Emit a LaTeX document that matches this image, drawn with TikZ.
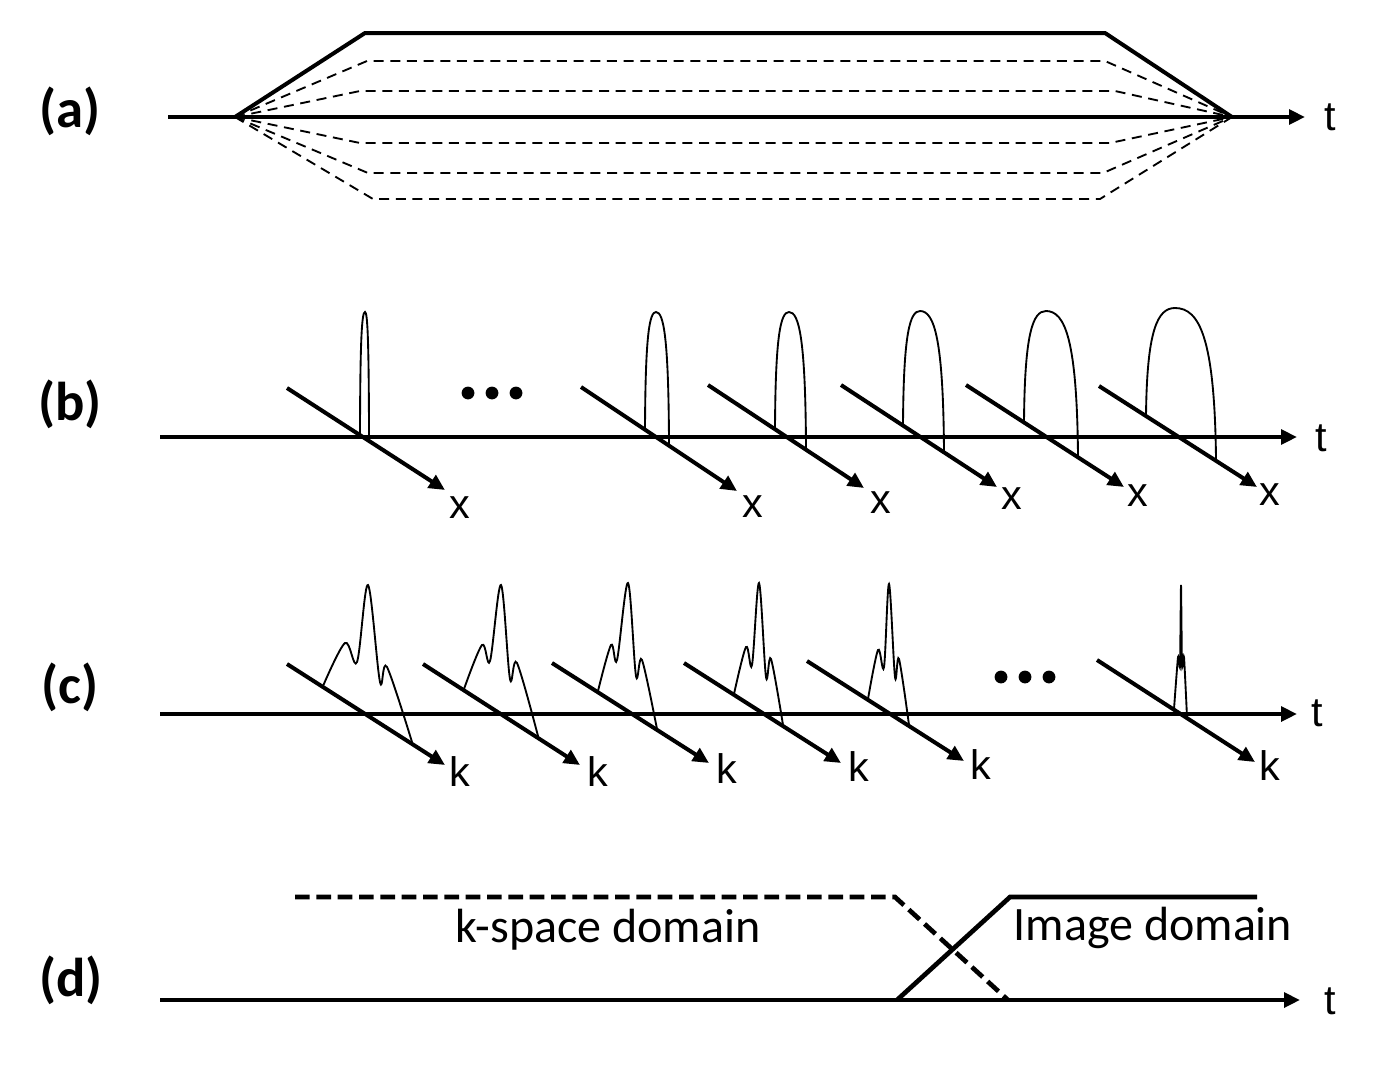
\documentclass[tikz,border=0pt]{standalone}
\usepackage{fontspec}
\setmainfont{Carlito}
\newfontfamily\arialf{Liberation Sans}
\usetikzlibrary{arrows.meta,calc}
\newcommand\archbump[6]{%
  \draw[bumpline] (#1,#2) .. controls ({#1+0.03*(#3-#1)},{#2+0.8*(#4-#2)}) and ({#3-0.6*(#3-#1)},#4) .. (#3,#4)
    .. controls ({#3+0.6*(#5-#3)},#4) and ({#5-0.03*(#5-#3)},{#6+0.8*(#4-#6)}) .. (#5,#6);}
\begin{document}
\begin{tikzpicture}[x=0.75pt,y=-0.75pt,
  axisline/.style={line width=3pt,-{Triangle[length=12pt,width=11pt]}},
  thickline/.style={line width=3pt},
  bumpline/.style={line width=1.4pt},
  dashline/.style={line width=1.4pt,dash pattern=on 7.5pt off 5pt},
  ddash/.style={line width=3.5pt,dash pattern=on 11pt off 5pt},
  panellabel/.style={font=\bfseries\fontsize{41}{46}\selectfont,inner sep=0pt},
  axlabel/.style={font=\arialf\fontsize{31}{36}\selectfont,inner sep=0pt},
  domainlabel/.style={font=\fontsize{36}{40}\selectfont,inner sep=0pt},
  dotmark/.style={fill=black}]
\useasboundingbox (0,0) rectangle (1376,1072);
\fill[white] (0,0) rectangle (1376,1072);

% ---------- panel labels
\node[panellabel] (la) at (70,111) {(a)};
\node[panellabel] (lb) at (70,404) {(b)};
\node[panellabel] (lc) at (70,687) {(c)};
\node[panellabel] (ld) at (71,980) {(d)};

% ---------- (a)
\coordinate (a0) at (168,117);
\coordinate (aL) at (235,117);
\coordinate (aR) at (1232,117);
\coordinate (aT) at (1305,117);
\node[axlabel] (at) at (1330,117) {t};
\draw[axisline] (a0) -- (aT);
\draw[thickline,line join=miter] (aL) -- (365,33) -- (1105,33) -- (aR);
\draw[dashline] (aL) -- (367,61) -- (1105,61) -- (aR);
\draw[dashline] (aL) -- (360,91) -- (1115,91) -- (aR);
\draw[dashline] (aL) -- (360,143) -- (1110,143) -- (aR);
\draw[dashline] (aL) -- (368,173) -- (1103,173) -- (aR);
\draw[dashline] (aL) -- (373,199) -- (1100,199) -- (aR);

% ---------- (b)
\coordinate (b0) at (160,437);
\coordinate (bT) at (1297,437);
\draw[axisline] (b0) -- (bT);
\node[axlabel] (bt) at (1321,438) {t};
\foreach \i/\sx/\sy/\ex/\ey/\lx/\ly in {1/287/388/445/490/460/508,2/581/387/737/491/753/507,3/708/385/864/488/881/503,4/841/385/997/487/1012/499,5/966/385/1124/487/1138/496,6/1099/386/1257/487/1270/495}{
  \coordinate (bs\i) at (\sx,\sy);
  \coordinate (be\i) at (\ex,\ey);
  \draw[axisline] (bs\i) -- (be\i);
  \node[axlabel] (bx\i) at (\lx,\ly) {x};
}
\archbump{360}{435}{365}{312}{369}{440}
\archbump{645}{430}{656}{312}{669}{445}
\archbump{775}{429}{789}{312}{806}{449}
\archbump{903}{425}{920}{311}{944}{452}
\archbump{1024}{422}{1046}{311}{1078}{457}
\archbump{1146}{416}{1175}{308}{1216}{460}
\fill[dotmark] (468,393) circle[radius=4.8pt] (492,393) circle[radius=4.8pt] (516,393) circle[radius=4.8pt];

% ---------- (c)
\coordinate (c0) at (160,714);
\coordinate (cT) at (1297,714);
\draw[axisline] (c0) -- (cT);
\node[axlabel] (ct) at (1317,713) {t};
\foreach \i/\sx/\sy/\ex/\ey/\lx/\ly in {1/287/664/445/765/460/772,2/423/664/580/765/598/772,3/552/663/709/763/727/769,4/684/663/841/763/859/767,5/807/661/964/761/981/765,6/1097/660/1255/762/1270/766}{
  \coordinate (cs\i) at (\sx,\sy);
  \coordinate (ce\i) at (\ex,\ey);
  \draw[axisline] (cs\i) -- (ce\i);
  \node[axlabel] (ck\i) at (\lx,\ly) {k};
}
\draw[bumpline] plot[smooth,tension=0.55] coordinates {(323,686) (345,643) (357,662) (368,585) (380,682) (387,667) (412,742)};
\draw[bumpline] plot[smooth,tension=0.55] coordinates {(464,689) (482,645) (490,661) (501,585) (510,679) (517,663) (538,736)};
\draw[bumpline] plot[smooth,tension=0.55] coordinates {(598,691) (611,645) (617,660) (628,583) (636,676) (642,660) (657,729)};
\draw[bumpline] plot[smooth,tension=0.55] coordinates {(734,694) (746,647) (752,665) (759,583) (766,677) (771,659) (783,725)};
\draw[bumpline] plot[smooth,tension=0.55] coordinates {(868,699) (878,650) (884,667) (889,584) (895,677) (899,659) (909,725)};
\draw[bumpline] plot[smooth,tension=0.3] coordinates {(1174,709) (1178,657) (1180,666) (1181,585) (1182,666) (1184,657) (1187,717)};
\fill[dotmark] (1001,677) circle[radius=4.8pt] (1025,677) circle[radius=4.8pt] (1049,677) circle[radius=4.8pt];

% ---------- (d)
\coordinate (d0) at (160,1000);
\coordinate (dT) at (1300,1000);
\draw[axisline] (d0) -- (dT);
\node[axlabel] (dt) at (1330,1001) {t};
\draw[ddash] (295,897) -- (895,897) -- (1008,1000);
\draw[thickline,line width=3.5pt] (897,1000) -- (1010,897) -- (1257,897);
\node[domainlabel] (kdom) at (608,930) {k-space domain};
\node[domainlabel] (idom) at (1153,928) {Image domain};
\end{tikzpicture}
\end{document}
